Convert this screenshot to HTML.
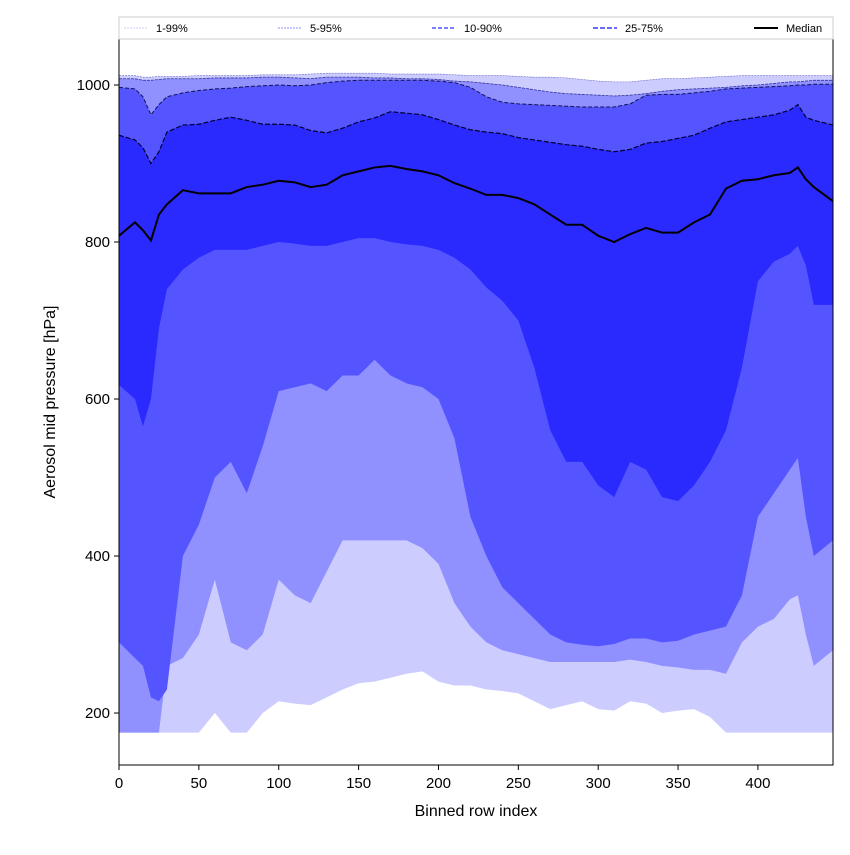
<!DOCTYPE html>
<html><head><meta charset="utf-8"><style>
body{margin:0;background:#fff;}
svg text{font-family:"Liberation Sans",sans-serif;}
</style></head><body>
<svg id="chart" width="850" height="850" viewBox="0 0 850 850" xmlns="http://www.w3.org/2000/svg">
<rect width="850" height="850" fill="#fff"/>
<g id="bands"></g>
<g id="lines"></g>
<rect x="119" y="39" width="714" height="726" fill="none" stroke="#000" stroke-width="1"/>
<g id="axes"></g>
<text x="476" y="816" text-anchor="middle" font-size="16">Binned row index</text>
<text transform="translate(55,402) rotate(-90)" text-anchor="middle" font-size="16">Aerosol mid pressure [hPa]</text>
<g>
<rect x="119" y="17" width="714" height="22" fill="#fff" stroke="#ccc"/>
<g><line x1="124" y1="28" x2="148" y2="28" stroke="#ccccff" stroke-dasharray="2,1"/><text x="156" y="32" font-size="11">1-99%</text></g>
<g><line x1="278" y1="28" x2="302" y2="28" stroke="#9090ff" stroke-dasharray="2,1"/><text x="310" y="32" font-size="11">5-95%</text></g>
<g><line x1="432" y1="28" x2="456" y2="28" stroke="#5555ff" stroke-width="1.5" stroke-dasharray="4,2"/><text x="464" y="32" font-size="11">10-90%</text></g>
<g><line x1="593" y1="28" x2="617" y2="28" stroke="#2a2aff" stroke-width="2" stroke-dasharray="5,2" opacity="0.7"/><text x="625" y="32" font-size="11">25-75%</text></g>
<g><line x1="754" y1="28" x2="778" y2="28" stroke="#000" stroke-width="2"/><text x="786" y="32" font-size="11">Median</text></g>
</g>
</svg>
<script>
const idx = [0,10,15,20,25,30,40,50,60,70,80,90,100,110,120,130,140,150,160,170,180,190,200,210,220,230,240,250,260,270,280,290,300,310,320,330,340,350,360,370,380,390,400,410,420,425,430,435,447];
const p99 = [1012,1012,1010,1010,1011,1011,1011,1012,1012,1012,1012,1013,1013,1013,1014,1015,1015,1015,1015,1014,1014,1014,1014,1013,1012,1012,1012,1011,1010,1010,1009,1007,1005,1004,1004,1006,1008,1008,1009,1010,1011,1012,1012,1012,1012,1012,1012,1012,1012];
const p95 = [1008,1008,1006,1006,1007,1008,1008,1008,1009,1009,1009,1010,1010,1009,1008,1010,1010,1010,1009,1009,1008,1008,1007,1005,1004,1002,1000,997,994,991,989,988,987,986,987,989,992,994,995,996,997,999,1000,1002,1004,1004,1005,1006,1006];
const p90 = [997,995,985,962,975,985,990,993,995,996,998,999,1000,999,1000,1003,1005,1006,1006,1006,1006,1006,1005,1003,997,985,978,976,975,974,973,972,972,972,976,987,988,988,990,992,995,996,997,998,999,1000,1000,1001,1001];
const p75 = [936,930,920,900,915,940,949,950,955,959,955,950,950,949,942,939,945,953,958,966,964,962,956,949,943,940,938,933,930,927,924,922,918,915,918,926,928,932,936,945,953,956,959,962,968,975,959,955,949];
const med = [808,825,815,802,835,848,866,862,862,862,870,873,878,876,870,873,885,890,895,897,893,890,885,875,868,860,860,856,848,835,822,822,808,800,810,818,812,812,825,835,868,878,880,885,888,895,880,870,852];
const p25 = [618,600,565,600,690,740,765,780,790,790,790,795,800,798,795,795,800,805,805,800,797,795,790,780,765,742,725,700,640,560,520,520,490,475,520,510,475,470,490,520,560,640,750,775,785,795,770,720,720];
const p10 = [290,270,260,220,215,230,400,440,500,520,480,540,610,615,620,610,630,630,650,630,620,615,600,550,450,400,360,340,320,300,290,287,285,288,295,295,290,292,300,305,310,350,450,480,510,525,450,400,420];
const p5 = [175,175,175,175,175,260,270,300,370,290,280,300,370,350,340,380,420,420,420,420,420,410,390,340,310,290,280,275,270,265,265,265,265,265,268,265,260,258,255,255,250,290,310,320,345,350,300,260,280];
const p1 = [175,175,175,175,175,175,175,175,200,175,175,200,215,212,210,220,230,238,240,245,250,253,240,235,235,230,228,225,215,205,210,215,205,203,215,212,200,203,205,195,175,175,175,175,175,175,175,175,175];
const xTicks = [0,50,100,150,200,250,300,350,400];
const yTicks = [200,400,600,800,1000];

const X0=119,X1=833,Y0=765,Y1=39,xMin=0,xMax=447,yMin=133.8,yMax=1058.6;
const sx=v=>X0+(v-xMin)/(xMax-xMin)*(X1-X0);
const sy=v=>Y0-(v-yMin)/(yMax-yMin)*(Y0-Y1);
const NS='http://www.w3.org/2000/svg';
const bands=document.getElementById('bands'), lines=document.getElementById('lines'), axes=document.getElementById('axes');
function band(lo,hi,color,name){
  let d='M'+idx.map((v,i)=>sx(v)+','+sy(hi[i])).join('L');
  for(let i=idx.length-1;i>=0;i--) d+='L'+sx(idx[i])+','+sy(lo[i]);
  const p=document.createElementNS(NS,'path');
  p.setAttribute('d',d+'Z');p.setAttribute('fill',color);
  
  
  bands.appendChild(p);
}
function line(arr,color,w,dash,name){
  const p=document.createElementNS(NS,'path');
  p.setAttribute('d','M'+idx.map((v,i)=>sx(v)+','+sy(arr[i])).join('L'));
  p.setAttribute('fill','none');p.setAttribute('stroke',color);p.setAttribute('stroke-width',w);
  if(dash)p.setAttribute('stroke-dasharray',dash);
  
  
  lines.appendChild(p);
}
band(p1,p99,'#ccccff','band-1-99');
band(p5,p95,'#9090ff','band-5-95');
band(p10,p90,'#5555ff','band-10-90');
band(p25,p75,'#2a2aff','band-25-75');
line(p99,'#6666cc',0.6,'2,1','line-p99');
line(p95,'#333399',0.8,'3,1','line-p95');
line(p90,'#111155',1,'4,2','line-p90');
line(p75,'#000033',1.2,'5,2','line-p75');
line(med,'#000',2,null,'median-line');
xTicks.forEach(t=>{
  const x=sx(t);
  const l=document.createElementNS(NS,'line');
  l.setAttribute('x1',x);l.setAttribute('x2',x);l.setAttribute('y1',765);l.setAttribute('y2',770);l.setAttribute('stroke','#000');
  
  
  axes.appendChild(l);
  const tx=document.createElementNS(NS,'text');
  tx.setAttribute('x',x);tx.setAttribute('y',788);tx.setAttribute('text-anchor','middle');tx.setAttribute('font-size','15');
  tx.textContent=t;
  
  
  axes.appendChild(tx);
});
yTicks.forEach(t=>{
  const y=sy(t);
  const l=document.createElementNS(NS,'line');
  l.setAttribute('x1',114);l.setAttribute('x2',119);l.setAttribute('y1',y);l.setAttribute('y2',y);l.setAttribute('stroke','#000');
  
  
  axes.appendChild(l);
  const tx=document.createElementNS(NS,'text');
  tx.setAttribute('x',110);tx.setAttribute('y',y+5);tx.setAttribute('text-anchor','end');tx.setAttribute('font-size','15');
  tx.textContent=t;
  
  
  axes.appendChild(tx);
});
</script>
</body></html>
